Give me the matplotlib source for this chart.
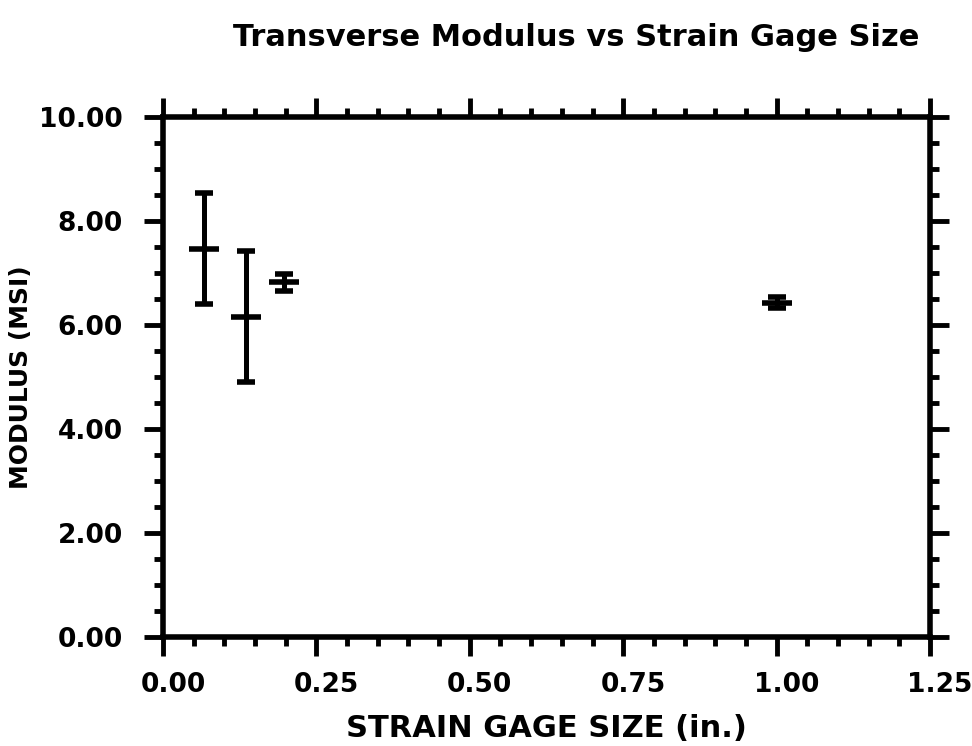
import matplotlib
matplotlib.use("Agg")
import matplotlib.pyplot as plt
import matplotlib.transforms as mtransforms
from matplotlib.ticker import MultipleLocator, FormatStrFormatter

# gage size (in.), modulus (Msi) and half-range of scatter
gage_size = [0.067, 0.135, 0.197, 1.00]
modulus = [7.47, 6.16, 6.82, 6.43]
modulus_err = [1.06, 1.26, 0.17, 0.10]

plt.rcParams["font.family"] = "DejaVu Sans"
plt.rcParams["font.weight"] = "bold"

fig = plt.figure(figsize=(9.72, 7.46), dpi=100)
ax = fig.add_axes([163 / 972, 1 - 637 / 746, (930 - 163) / 972, (637 - 117) / 746])

ax.errorbar(gage_size, modulus, yerr=modulus_err, fmt="_", color="k",
            ms=21, mew=4, elinewidth=3.6, capsize=6.5, capthick=4.2)

ax.set_xlim(0, 1.25)
ax.set_ylim(0, 10)
ax.xaxis.set_major_locator(MultipleLocator(0.25))
ax.xaxis.set_minor_locator(MultipleLocator(0.05))
ax.yaxis.set_major_locator(MultipleLocator(2))
ax.yaxis.set_minor_locator(MultipleLocator(0.5))
ax.xaxis.set_major_formatter(FormatStrFormatter("%.2f"))
ax.yaxis.set_major_formatter(FormatStrFormatter("%.2f"))

for s in ax.spines.values():
    s.set_linewidth(4)
ax.tick_params(which="both", direction="out", top=True, right=True, width=3.5, color="k")
ax.tick_params(which="major", length=14, labelsize=19)
ax.tick_params(axis="x", which="major", pad=11)
ax.tick_params(axis="y", which="major", pad=15)
ax.tick_params(which="minor", length=6.5)

# tick labels in the original sit a little right of their ticks
shift = mtransforms.ScaledTranslation(10 / 100, 0, fig.dpi_scale_trans)
for lbl in ax.get_xticklabels():
    lbl.set_transform(lbl.get_transform() + shift)

ax.set_xlabel("STRAIN GAGE SIZE (in.)", fontsize=22, fontweight="bold", labelpad=12)
ax.set_ylabel("MODULUS (MSI)", fontsize=18, fontweight="bold", labelpad=4)

fig.text(0.593, 1 - 37 / 746, "Transverse Modulus vs Strain Gage Size",
         ha="center", va="center", fontsize=22, fontweight="bold")

fig.savefig("out.png", dpi=100)
